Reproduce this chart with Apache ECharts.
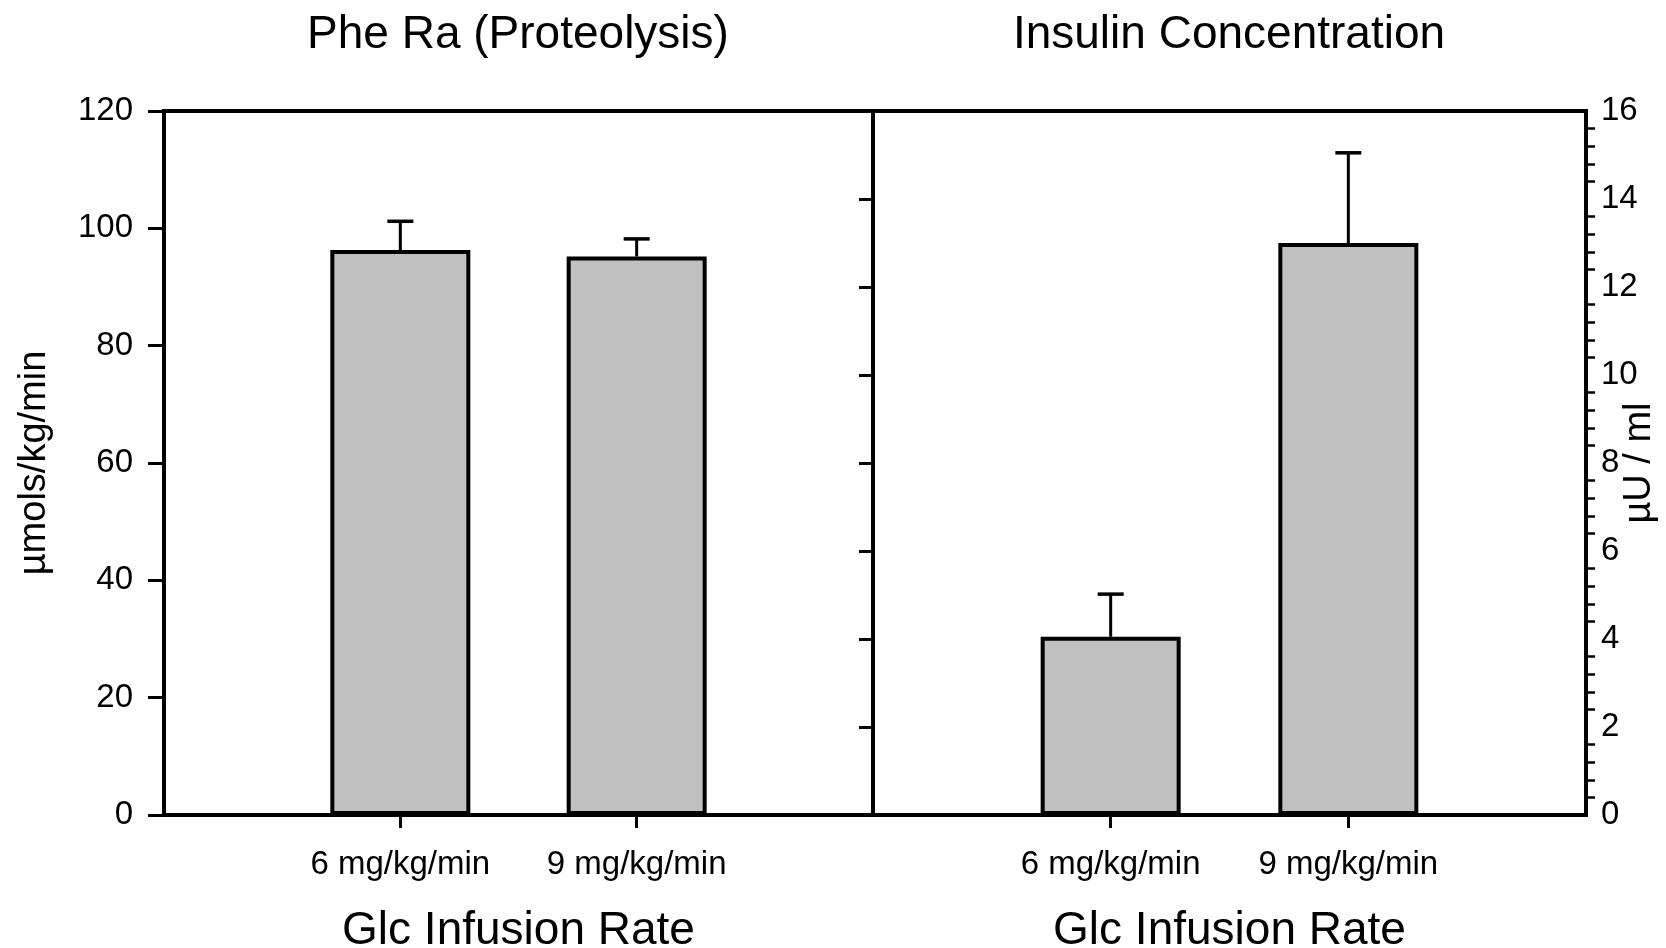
<!DOCTYPE html>
<html>
<head>
<meta charset="utf-8">
<script src="https://cdn.jsdelivr.net/npm/echarts@6/dist/echarts.min.js"></script>
<style>
  html, body { margin: 0; padding: 0; background: #fff; }
  #chart { width: 1666px; height: 948px; }
</style>
</head>
<body>
<div id="chart"></div>
<script>
// Glucose infusion groups and the measured means with standard errors
const categories = ['6 mg/kg/min', '9 mg/kg/min'];
const pheRaMean = [96.3, 95.2];
const pheRaSE = [4.9, 3.0];
const insulinMean = [4.05, 13.0];
const insulinSE = [0.97, 2.05];

const panelTitles = ['Phe Ra (Proteolysis)', 'Insulin Concentration'];
const xAxisTitle = 'Glc Infusion Rate';
const pheRaUnit = 'µmols/kg/min';
const insulinUnit = 'µU / ml';

// Axis ranges
const pheRaRange = { min: 0, max: 120, interval: 20 };
const insulinRange = { min: 0, max: 16, interval: 2 };

const FONT = '"Liberation Sans", Arial, Helvetica, sans-serif';
const INK = '#000';
const BAR_FILL = '#c0c0c0';
const LINE_W = 4;

// Category slots: empty slots at both ends place the bars at 1/3 and 2/3 of each panel
const slots = ['', ...categories, ''];

function errorBarData(means, errs) {
  return categories.map((c, i) => [c, means[i], means[i] + errs[i]]);
}
function barData(means) {
  return categories.map((c, i) => [c, means[i]]);
}

function renderErrorBar(params, api) {
  const x = api.value(0);
  const p0 = api.coord([x, api.value(1)]);
  const p1 = api.coord([x, api.value(2)]);
  const half = 13;
  return {
    type: 'group',
    children: [
      { type: 'line', shape: { x1: p0[0], y1: p0[1], x2: p1[0], y2: p1[1] },
        style: { stroke: INK, lineWidth: 3 } },
      { type: 'line', shape: { x1: p1[0] - half, y1: p1[1], x2: p1[0] + half, y2: p1[1] },
        style: { stroke: INK, lineWidth: 3.5 } }
    ]
  };
}

function categoryAxis(gridIndex) {
  return {
    type: 'category',
    gridIndex,
    data: slots,
    boundaryGap: false,
    axisLine: { lineStyle: { color: INK, width: LINE_W } },
    axisTick: {
      show: true,
      interval: (index) => index === 1 || index === 2,
      length: 13,
      lineStyle: { color: INK, width: 3 }
    },
    axisLabel: { interval: 0, fontFamily: FONT, fontSize: 33, color: INK, margin: 33 },
    splitLine: { show: false },
    name: xAxisTitle,
    nameLocation: 'middle',
    nameGap: 93,
    nameMoveOverlap: false,
    nameTextStyle: { fontFamily: FONT, fontSize: 46, color: INK }
  };
}

const option = {
  backgroundColor: '#fff',
  animation: false,
  title: [
    { text: panelTitles[0], left: 518, top: 12, padding: 0, textAlign: 'center',
      textStyle: { fontFamily: FONT, fontSize: 46, fontWeight: 'normal', color: INK } },
    { text: panelTitles[1], left: 1229, top: 12, padding: 0, textAlign: 'center',
      textStyle: { fontFamily: FONT, fontSize: 46, fontWeight: 'normal', color: INK } }
  ],
  grid: [
    { left: 164, top: 111, width: 709, height: 704, show: true, containLabel: false,
      outerBoundsMode: 'none',
      borderColor: INK, borderWidth: LINE_W, backgroundColor: 'transparent' },
    { left: 873, top: 111, width: 713, height: 704, show: true, containLabel: false,
      outerBoundsMode: 'none',
      borderColor: INK, borderWidth: LINE_W, backgroundColor: 'transparent' }
  ],
  xAxis: [categoryAxis(0), categoryAxis(1)],
  yAxis: [
    {
      type: 'value', gridIndex: 0, position: 'left',
      min: pheRaRange.min, max: pheRaRange.max, interval: pheRaRange.interval,
      axisLine: { show: true, lineStyle: { color: INK, width: LINE_W } },
      axisTick: { show: true, length: 16, lineStyle: { color: INK, width: 3 } },
      axisLabel: { fontFamily: FONT, fontSize: 33, color: INK, margin: 31 },
      splitLine: { show: false },
      name: pheRaUnit, nameLocation: 'middle', nameRotate: 90, nameGap: 110,
      nameMoveOverlap: false,
      nameTextStyle: { fontFamily: FONT, fontSize: 38, color: INK }
    },
    {
      // divider between the panels: unlabelled ticks on the insulin scale
      type: 'value', gridIndex: 1, position: 'left',
      min: insulinRange.min, max: insulinRange.max, interval: insulinRange.interval,
      axisLine: { show: true, lineStyle: { color: INK, width: LINE_W } },
      axisTick: { show: true, length: 14, lineStyle: { color: INK, width: 3 } },
      axisLabel: { show: false },
      splitLine: { show: false }
    },
    {
      type: 'value', gridIndex: 1, position: 'right',
      min: insulinRange.min, max: insulinRange.max, interval: insulinRange.interval,
      axisLine: { show: true, lineStyle: { color: INK, width: LINE_W } },
      axisTick: { show: false },
      minorTick: { show: true, splitNumber: 5, length: 9, lineStyle: { color: INK, width: 2.5 } },
      axisLabel: { fontFamily: FONT, fontSize: 33, color: INK, margin: 15 },
      splitLine: { show: false },
      minorSplitLine: { show: false },
      name: insulinUnit, nameLocation: 'middle', nameRotate: 90, nameGap: 35,
      nameMoveOverlap: false,
      nameTextStyle: { fontFamily: FONT, fontSize: 38, color: INK }
    }
  ],
  series: [
    {
      type: 'bar', xAxisIndex: 0, yAxisIndex: 0,
      data: barData(pheRaMean), barWidth: 140,
      itemStyle: { color: BAR_FILL, borderColor: INK, borderWidth: LINE_W }
    },
    {
      type: 'custom', xAxisIndex: 0, yAxisIndex: 0, z: 5,
      data: errorBarData(pheRaMean, pheRaSE),
      renderItem: renderErrorBar
    },
    {
      type: 'bar', xAxisIndex: 1, yAxisIndex: 2,
      data: barData(insulinMean), barWidth: 140,
      itemStyle: { color: BAR_FILL, borderColor: INK, borderWidth: LINE_W }
    },
    {
      type: 'custom', xAxisIndex: 1, yAxisIndex: 2, z: 5,
      data: errorBarData(insulinMean, insulinSE),
      renderItem: renderErrorBar
    }
  ]
};

const chart = echarts.init(document.getElementById('chart'), null, { renderer: 'canvas' });
chart.setOption(option);
</script>
</body>
</html>
